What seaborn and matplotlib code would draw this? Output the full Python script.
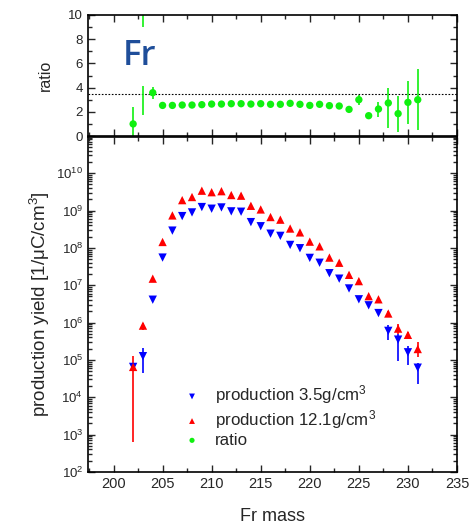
import numpy as np
import pandas as pd
import matplotlib
matplotlib.use("Agg")
import matplotlib.pyplot as plt
from matplotlib.ticker import MultipleLocator, LogLocator, NullFormatter
import seaborn as sns

# ---------------- data ----------------
mass = list(range(202, 232))

# production 3.5 g/cm3 (blue, down triangles)
prod_lo = [6.5e4, 1.26e5, 4.1e6, 5.5e7, 2.9e8, 7.1e8, 8.9e8, 1.24e9, 1.12e9, 1.21e9,
           9.5e8, 9.3e8, 4.9e8, 3.8e8, 2.4e8, 2.1e8, 1.2e8, 9.8e7, 5.4e7, 4.0e7,
           2.1e7, 1.5e7, 8.2e6, 4.2e6, 2.9e6, 1.8e6, 6.0e5, 3.5e5, 1.6e5, 6.2e4]
prod_lo_min = [6.0e4, 4.5e4, 3.9e6, 5.3e7, 2.8e8, 6.9e8, 8.6e8, 1.20e9, 1.08e9, 1.17e9,
               9.2e8, 9.0e8, 4.7e8, 3.7e8, 2.3e8, 2.0e8, 1.15e8, 9.4e7, 5.2e7, 3.8e7,
               2.0e7, 1.4e7, 7.8e6, 4.0e6, 2.7e6, 1.65e6, 3.5e5, 9.5e4, 7.4e4, 2.2e4]
prod_lo_max = [7.0e4, 2.1e5, 4.3e6, 5.7e7, 3.0e8, 7.3e8, 9.2e8, 1.28e9, 1.16e9, 1.25e9,
               9.8e8, 9.6e8, 5.1e8, 3.9e8, 2.5e8, 2.2e8, 1.25e8, 1.02e8, 5.6e7, 4.2e7,
               2.2e7, 1.6e7, 8.6e6, 4.4e6, 3.1e6, 1.95e6, 8.7e5, 4.8e5, 2.3e5, 8.3e4]

# production 12.1 g/cm3 (red, up triangles)
prod_hi = [6.5e4, 8.3e5, 1.5e7, 1.44e8, 7.4e8, 1.9e9, 2.3e9, 3.4e9, 3.1e9, 3.3e9,
           2.6e9, 2.5e9, 1.34e9, 1.07e9, 6.7e8, 5.7e8, 3.3e8, 2.6e8, 1.47e8, 1.1e8,
           5.5e7, 4.0e7, 1.9e7, 1.29e7, 5.1e6, 4.2e6, 1.75e6, 6.9e5, 4.7e5, 1.96e5]
prod_hi_min = [6.3e2, 6.5e5, 1.4e7, 1.4e8, 7.2e8, 1.85e9, 2.25e9, 3.3e9, 3.0e9, 3.2e9,
               2.5e9, 2.4e9, 1.3e9, 1.04e9, 6.5e8, 5.5e8, 3.2e8, 2.5e8, 1.42e8, 1.06e8,
               5.3e7, 3.85e7, 1.82e7, 1.23e7, 4.8e6, 3.9e6, 1.5e6, 5.0e5, 3.9e5, 1.23e5]
prod_hi_max = [1.3e5, 1.0e6, 1.6e7, 1.5e8, 7.6e8, 1.95e9, 2.35e9, 3.5e9, 3.2e9, 3.4e9,
               2.7e9, 2.6e9, 1.38e9, 1.1e9, 6.9e8, 5.9e8, 3.4e8, 2.7e8, 1.52e8, 1.14e8,
               5.7e7, 4.15e7, 1.98e7, 1.35e7, 5.4e6, 4.5e6, 2.0e6, 9.0e5, 5.6e5, 2.95e5]

# ratio (green circles)
ratio = [1.0, 6.7, 3.58, 2.53, 2.53, 2.56, 2.56, 2.59, 2.64, 2.64,
         2.67, 2.67, 2.64, 2.67, 2.62, 2.62, 2.70, 2.62, 2.53, 2.62,
         2.51, 2.48, 2.20, 3.0, 1.68, 2.23, 2.73, 1.85, 2.78, 3.0]
ratio_err_lo = [1.0, 4.96, 0.55, 0.05, 0.05, 0.05, 0.05, 0.05, 0.05, 0.05,
                0.05, 0.05, 0.05, 0.05, 0.05, 0.05, 0.05, 0.05, 0.05, 0.05,
                0.05, 0.05, 0.2, 0.44, 0.15, 0.63, 2.1, 1.49, 1.79, 2.5]
ratio_err_hi = [1.37, 5.3, 0.44, 0.05, 0.05, 0.05, 0.05, 0.05, 0.05, 0.05,
                0.05, 0.05, 0.05, 0.05, 0.05, 0.05, 0.05, 0.05, 0.05, 0.05,
                0.05, 0.05, 0.2, 0.39, 0.15, 0.61, 1.27, 1.45, 1.79, 2.5]
density_ratio = 12.1 / 3.5

labels = ["production 3.5g/cm$^3$", "production 12.1g/cm$^3$", "ratio"]

# ---------------- style ----------------
sns.set_style("ticks")
plt.rcParams["font.family"] = ["Liberation Sans", "DejaVu Sans"]
plt.rcParams["mathtext.fontset"] = "custom"
plt.rcParams["mathtext.rm"] = "Liberation Sans"
plt.rcParams["mathtext.it"] = "Liberation Sans:italic"
plt.rcParams["axes.linewidth"] = 1.2

BLUE, RED, GREEN = "#0000ff", "#ff0000", "#10f010"

fig = plt.figure(figsize=(4.69, 5.26), dpi=100)
ax_r = fig.add_axes([0.1876, 0.7414, 0.7868, 0.2301])
ax_p = fig.add_axes([0.1876, 0.1027, 0.7868, 0.6368])

df = pd.DataFrame({"mass": mass, "p35": prod_lo, "p121": prod_hi, "ratio": ratio})

# ---- ratio panel ----
ax_r.errorbar(mass, ratio, yerr=[ratio_err_lo, ratio_err_hi], fmt="none",
              ecolor=GREEN, elinewidth=1.2, zorder=2)
sns.scatterplot(data=df, x="mass", y="ratio", ax=ax_r, color=GREEN, marker="o",
                s=28, edgecolor="none", zorder=3, legend=False)
ax_r.axhline(density_ratio, color="black", lw=0.8, ls=(0, (1.5, 1.5)), zorder=1)
ax_r.text(202.6, 6.6, "Fr", color="#1f4e9a", fontsize=25, fontweight="semibold",
          family=["Open Sans", "DejaVu Sans"], ha="center", va="center", zorder=5,
          bbox=dict(facecolor="white", edgecolor="none", pad=9))
ax_r.set_xlim(197.4, 235)
ax_r.set_ylim(0, 10)
ax_r.yaxis.set_major_locator(MultipleLocator(2))
ax_r.yaxis.set_minor_locator(MultipleLocator(1))
ax_r.xaxis.set_major_locator(MultipleLocator(5))
ax_r.xaxis.set_minor_locator(MultipleLocator(2.5))
ax_r.set_xlabel("")
ax_r.set_ylabel("ratio", fontsize=11.5, labelpad=11)
ax_r.tick_params(axis="x", labelbottom=False)

# ---- production panel ----
ax_p.errorbar(mass, prod_lo,
              yerr=[np.array(prod_lo) - np.array(prod_lo_min),
                    np.array(prod_lo_max) - np.array(prod_lo)],
              fmt="none", ecolor=BLUE, elinewidth=1.2, zorder=2)
ax_p.errorbar(mass, prod_hi,
              yerr=[np.array(prod_hi) - np.array(prod_hi_min),
                    np.array(prod_hi_max) - np.array(prod_hi)],
              fmt="none", ecolor=RED, elinewidth=1.2, zorder=2)
sns.scatterplot(data=df, x="mass", y="p35", ax=ax_p, color=BLUE, marker="v",
                s=36, edgecolor="none", zorder=3, label=labels[0])
sns.scatterplot(data=df, x="mass", y="p121", ax=ax_p, color=RED, marker="^",
                s=36, edgecolor="none", zorder=4, label=labels[1])
ax_p.scatter([], [], color=GREEN, marker="o", s=28, edgecolor="none", label=labels[2])
ax_p.set_yscale("log")
ax_p.set_xlim(197.4, 235)
ax_p.set_ylim(1e2, 9.3e10)
ax_p.xaxis.set_major_locator(MultipleLocator(5))
ax_p.xaxis.set_minor_locator(MultipleLocator(2.5))
ax_p.yaxis.set_major_locator(LogLocator(base=10, numticks=20))
ax_p.yaxis.set_minor_locator(LogLocator(base=10, subs=np.arange(2, 10), numticks=20))
ax_p.yaxis.set_minor_formatter(NullFormatter())
ax_p.set_xlabel("Fr mass", fontsize=13, labelpad=12)
ax_p.set_ylabel("production yield [1/\u03bcC/cm$^3$]", fontsize=13.5, labelpad=3)
ax_p.legend(loc="lower left", bbox_to_anchor=(0.236, 0.052), frameon=False,
            fontsize=12.2, handlelength=1.2, handletextpad=0.75, labelspacing=0.1,
            borderaxespad=0, markerscale=0.7)

for ax in (ax_r, ax_p):
    ax.tick_params(which="both", direction="in", top=True, right=True, width=1.0)
    ax.tick_params(which="major", length=5)
    ax.tick_params(which="minor", length=3)
    ax.tick_params(axis="x", labelsize=10.5)
    ax.tick_params(axis="y", labelsize=9.5)
    for s in ax.spines.values():
        s.set_visible(True)
        s.set_color("black")

fig.savefig("out.png", dpi=100)
